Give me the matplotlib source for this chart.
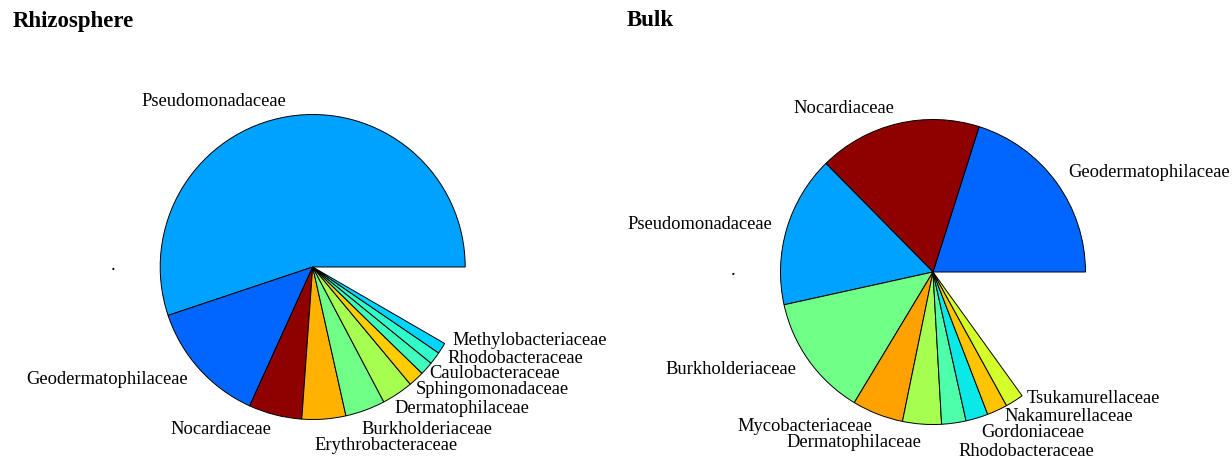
import numpy as np
import matplotlib
matplotlib.use("Agg")
import matplotlib.pyplot as plt

# ---------------- data ----------------
rhizo_labels = ["Pseudomonadaceae", "Geodermatophilaceae", "Nocardiaceae",
                "Erythrobacteraceae", "Burkholderiaceae", "Dermatophilaceae",
                "Sphingomonadaceae", "Caulobacteraceae", "Rhodobacteraceae",
                "Methylobacteriaceae"]
rhizo_values = [0.5514, 0.1308, 0.0564, 0.0464, 0.0422, 0.0333,
                0.0167, 0.0142, 0.0133, 0.0117]

bulk_labels = ["Geodermatophilaceae", "Nocardiaceae", "Pseudomonadaceae",
               "Burkholderiaceae", "Mycobacteriaceae", "Dermatophilaceae",
               "Rhodobacteraceae", "Gordoniaceae", "Nakamurellaceae",
               "Tsukamurellaceae"]
bulk_values = [0.2011, 0.1728, 0.1606, 0.1292, 0.0542, 0.0411,
               0.0258, 0.0236, 0.0217, 0.0192]

# ---------------- style ----------------
rhizo_colors = ["#00a2ff", "#0066ff", "#8f0000", "#ffb300", "#70ff87",
                "#a6ff50", "#ffcc00", "#40ffbb", "#30ffcc", "#00d5ff"]
bulk_colors = ["#0066ff", "#8f0000", "#00a2ff", "#70ff87", "#ffa200",
               "#a6ff50", "#4dffaa", "#0ae8e8", "#ffc400", "#d5ff2b"]

# label nudges in pixels (dx right, dy down)
rhizo_nudge = [(0, 0), (0, 0), (0, 0), (-11, 11.6), (-9.4, 4.7), (-11.4, 1.6),
               (-11.2, -1.1), (-8.3, -5.1), (0, -8.6), (-2.5, -15.8)]
bulk_nudge = [(0, 0), (0, 0), (0, 0), (0, 0), (0, -2), (0, 3.5),
              (2, 13), (0, 0), (1, -7.5), (4, -15)]

W, H = 1232, 459
R_PX = 152.5
plt.rcParams['font.family'] = ['Liberation Serif', 'DejaVu Serif']

fig = plt.figure(figsize=(W / 100, H / 100), dpi=100)
fig.patch.set_facecolor("white")


def draw(rect_px, center_px, values, labels, colors, nudges, title, title_px):
    x0, w = rect_px
    ax = fig.add_axes([x0 / W, 0, w / W, 1])
    cx, cy = center_px  # pixel coords from top-left in figure
    lx = cx - x0
    ly = H - cy
    ax.axis("off")
    ax.pie(values, colors=colors, startangle=0, counterclock=True,
           normalize=False, radius=1.0, center=(0, 0),
           wedgeprops=dict(edgecolor="black", linewidth=0.7))
    ax.set_xlim(-lx / R_PX, (w - lx) / R_PX)
    ax.set_ylim(-ly / R_PX, (H - ly) / R_PX)
    ax.set_aspect("auto")
    cum = np.cumsum([0] + list(values))
    for i, lab in enumerate(labels):
        mid = 2 * np.pi * (cum[i] + cum[i + 1]) / 2
        tx = 1.1 * np.cos(mid)
        ty = 1.1 * np.sin(mid)
        ha = "left" if tx >= 0 else "right"
        dx, dy = nudges[i]
        ax.text(tx + dx / R_PX, ty - dy / R_PX, lab, ha=ha, va="center",
                fontsize=13.3, color="black")
    ax.text(-1.31, -0.02, ".", ha="center", va="baseline", fontsize=13.3)
    fig.text(title_px[0] / W, 1 - title_px[1] / H, title, ha="left",
             va="center", fontsize=16.5, fontweight="bold")


draw((0, 616), (312.7, 267), rhizo_values, rhizo_labels, rhizo_colors,
     rhizo_nudge, "Rhizosphere", (13, 22))
draw((616, 616), (933, 272), bulk_values, bulk_labels, bulk_colors,
     bulk_nudge, "Bulk", (627, 20))

fig.savefig("out.png", dpi=100)
